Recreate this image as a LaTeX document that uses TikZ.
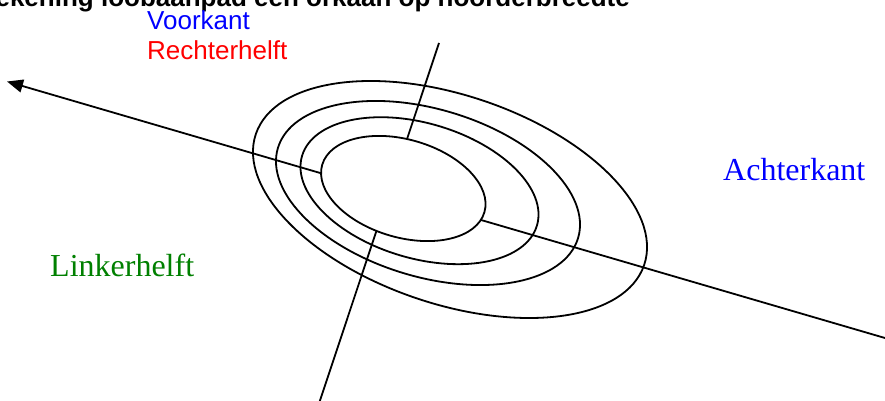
\documentclass[tikz,border=0pt]{standalone}
\usepackage{fontspec}
\setmainfont{Liberation Serif}
\setsansfont{Liberation Sans}
\usetikzlibrary{arrows.meta}
\definecolor{lgreen}{RGB}{0,128,0}
\begin{document}
\begin{tikzpicture}[x=1pt,y=-1pt,
  axisline/.style={line width=1.8pt},
  ring/.style={line width=1.8pt},
  titlelabel/.style={font=\sffamily\bfseries\fontsize{26}{30}\selectfont, inner sep=0pt, anchor=base east},
  sanslabel/.style={font=\sffamily\fontsize{26}{30}\selectfont, inner sep=0pt, anchor=base west},
  seriflabel/.style={font=\rmfamily\fontsize{32}{36}\selectfont, inner sep=0pt, anchor=base west}]
\clip (0,0) rectangle (885,401);
% title (cut off at top in the reference)
\node[titlelabel] (title) at (630,6.5) {Tekening loobaanpad een orkaan op noorderbreedte};
% labels
\node[sanslabel, text=blue] (voorkant) at (147,30) {Voorkant};
\node[sanslabel, text=red] (rechterhelft) at (147,60) {Rechterhelft};
\node[seriflabel, text=blue] (achterkant) at (723,180) {Achterkant};
\node[seriflabel, text=lgreen] (linkerhelft) at (50,276) {Linkerhelft};
% rings
\draw[ring, shift={(450,199.5)}, rotate=-18.6] (0,0) ellipse [x radius=204.9pt, y radius=104.3pt];
\draw[ring, shift={(428,193)}, rotate=-16.7] (0,0) ellipse [x radius=156.7pt, y radius=83.8pt];
\draw[ring, shift={(419.5,190.7)}, rotate=-16.5] (0,0) ellipse [x radius=122.5pt, y radius=67.5pt];
% axes
\coordinate (arrowtip) at (7,81.5);
\coordinate (rightend) at (886,338.3);
\coordinate (topend) at (439,43);
\coordinate (botend) at (319.5,402);
\draw[axisline, -{Triangle[length=16pt,width=13pt]}] (rightend) -- (arrowtip);
\draw[axisline] (topend) -- (botend);
% inner eye
\draw[ring, fill=white, shift={(403.3,188.5)}, rotate=-16.3] (0,0) ellipse [x radius=84.5pt, y radius=48.9pt];
\end{tikzpicture}
\end{document}
